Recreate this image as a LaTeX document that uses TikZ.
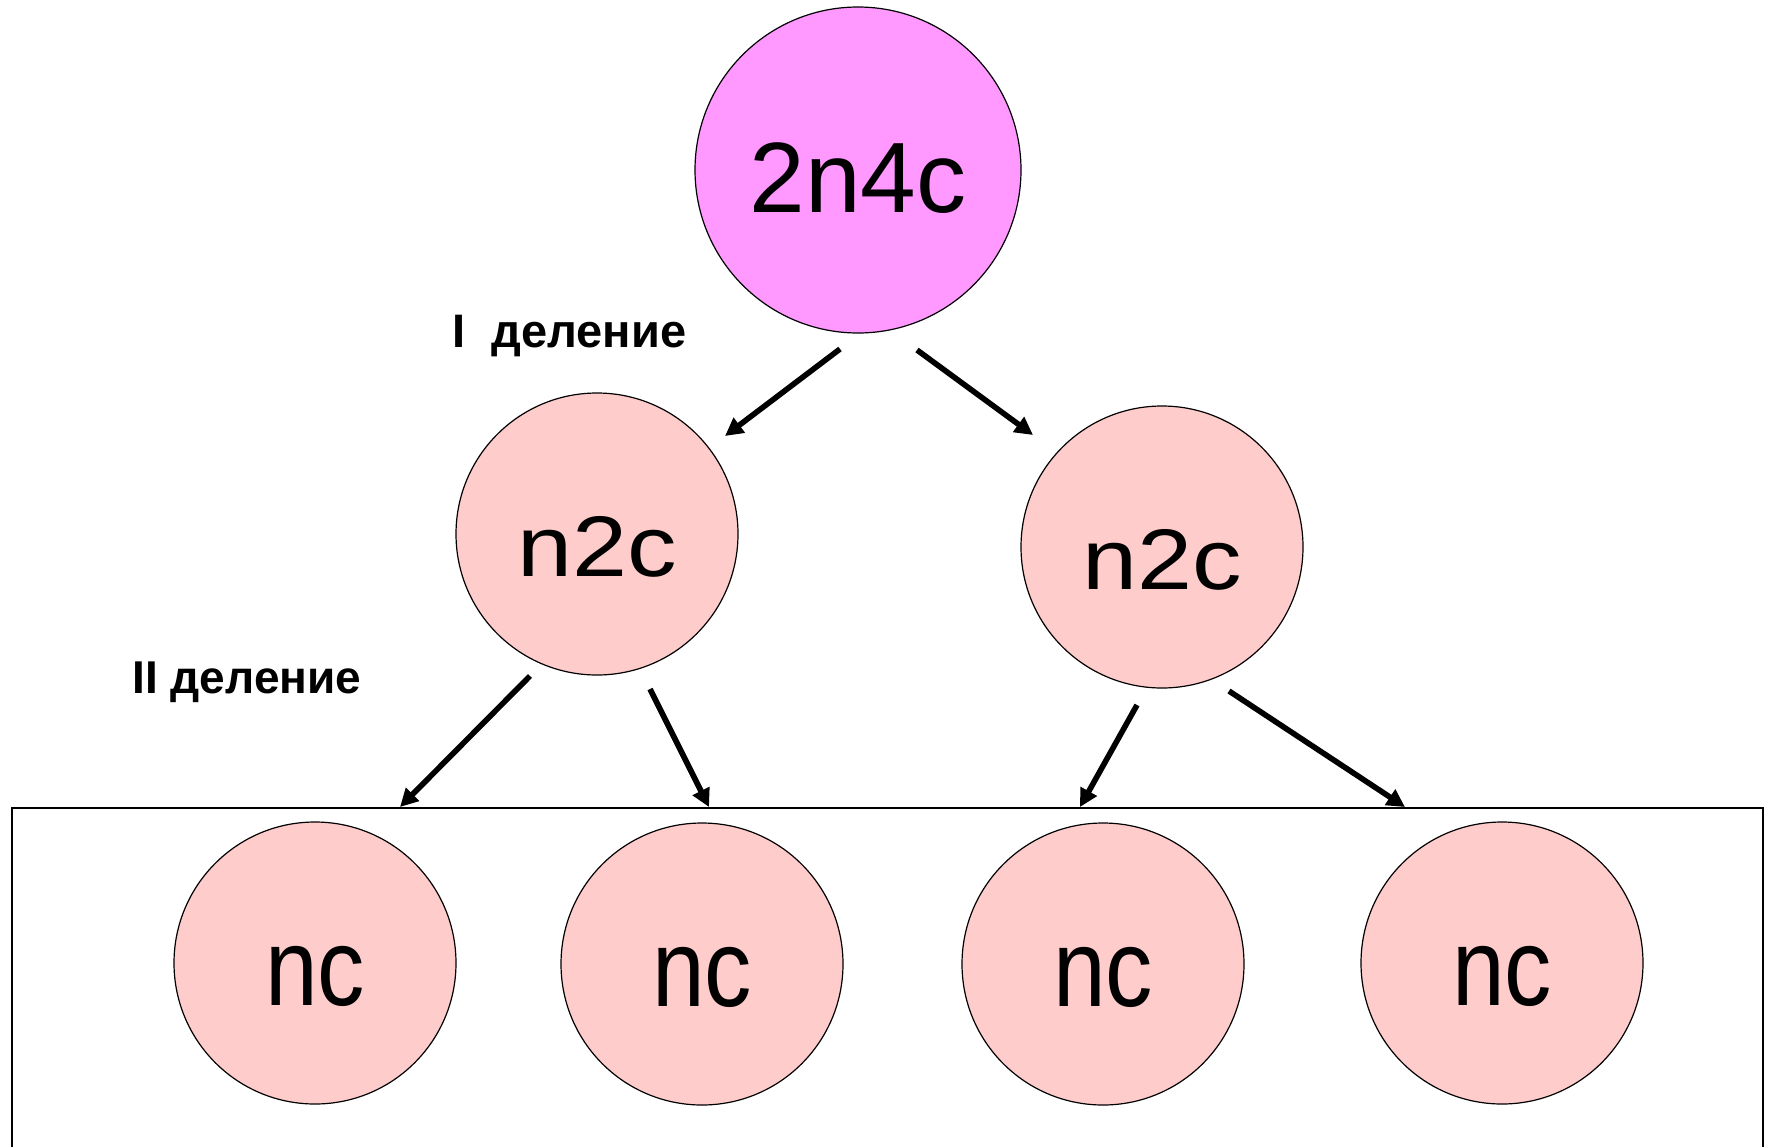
\documentclass[tikz,border=0pt]{standalone}
\usepackage{fontspec}
\setmainfont{Liberation Sans}
\usetikzlibrary{arrows.meta}
\definecolor{topfill}{HTML}{FF99FF}
\definecolor{cellfill}{HTML}{FFCCCC}
\begin{document}
\begin{tikzpicture}[x=0.5pt,y=-0.5pt,
  cell/.style={circle, draw=black, line width=0.6pt, inner sep=0pt, fill=cellfill,
    text height=42pt, text depth=0pt},
  bigcell/.style={cell, fill=topfill, minimum size=163pt, font=\fontsize{50pt}{50pt}\selectfont},
  midcell/.style={cell, minimum size=141pt, font=\fontsize{43pt}{43pt}\selectfont},
  smallcell/.style={cell, minimum size=141pt, font=\fontsize{55pt}{55pt}\selectfont},
  arr/.style={line width=2.8pt, -{Triangle[length=9pt,width=9pt]}},
  lbl/.style={anchor=base west, inner sep=0pt, font=\bfseries\fontsize{23.5pt}{23.5pt}\selectfont}]
\clip (0,0) rectangle (1772,1146);
\fill[white] (0,0) rectangle (1772,1146);
% box
\draw[line width=1pt] (12,808) rectangle (1763,1200);
% cells
\node[bigcell] (top) at (858,170) {2n4c};
\node[midcell] (L) at (597,534) {\scalebox{1.15}[1]{n2c}};
\node[midcell] (R) at (1162,547) {\scalebox{1.15}[1]{n2c}};
\node[smallcell] (c1) at (315,963) {\scalebox{0.86}[1]{nc}};
\node[smallcell] (c2) at (702,964) {\scalebox{0.86}[1]{nc}};
\node[smallcell] (c3) at (1103,964) {\scalebox{0.86}[1]{nc}};
\node[smallcell] (c4) at (1502,963) {\scalebox{0.86}[1]{nc}};
% labels
\node[lbl] (d1) at (452,347) {I\ \ деление};
\node[lbl, font=\bfseries\fontsize{23pt}{23pt}\selectfont] (d2) at (132,693) {II деление};
% arrow end points
\coordinate (s1) at (840,349);  \coordinate (e1) at (725,436);
\coordinate (s2) at (917,350);  \coordinate (e2) at (1033,435);
\coordinate (s3) at (530,676);  \coordinate (e3) at (400,807);
\coordinate (s4) at (650,689);  \coordinate (e4) at (709,807);
\coordinate (s5) at (1137,705); \coordinate (e5) at (1080,807);
\coordinate (s6) at (1229,691); \coordinate (e6) at (1405,807);
\draw[arr] (s1) -- (e1);
\draw[arr] (s2) -- (e2);
\draw[arr] (s3) -- (e3);
\draw[arr] (s4) -- (e4);
\draw[arr] (s5) -- (e5);
\draw[arr] (s6) -- (e6);
\end{tikzpicture}
\end{document}
